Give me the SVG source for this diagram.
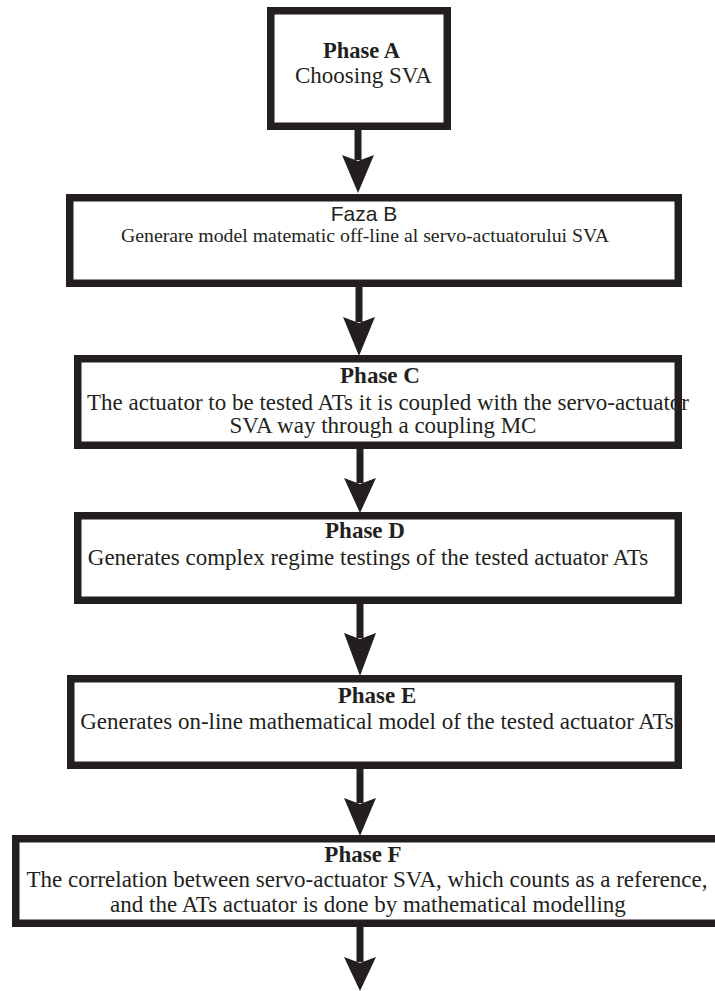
<svg xmlns="http://www.w3.org/2000/svg" width="715" height="991" viewBox="0 0 715 991">
<defs>
<style>
.box{fill:#fff;stroke:#231f20;stroke-width:7.5}
.t{font-family:"Liberation Serif","Times New Roman",serif;fill:#231f20;text-anchor:middle;font-size:23px}
.b{font-weight:bold}
.s{font-family:"Liberation Sans",Arial,sans-serif;fill:#231f20;text-anchor:middle}
.shaft{stroke:#231f20;stroke-width:7;fill:none}
.head{fill:#231f20}
</style>
</defs>
<rect width="715" height="991" fill="#fff"/>
<g id="connectors">
<line class="shaft" x1="358" y1="130" x2="358" y2="160"/>
<polygon class="head" points="342,155 358,161 374,155 358,193"/>
<line class="shaft" x1="359" y1="287" x2="359" y2="322"/>
<polygon class="head" points="343,317 359,323 375,317 359,356"/>
<line class="shaft" x1="360" y1="449" x2="360" y2="483"/>
<polygon class="head" points="344,478 360,484 376,478 360,513"/>
<line class="shaft" x1="360" y1="604" x2="360" y2="638"/>
<polygon class="head" points="344,633 360,639 376,633 360,676"/>
<line class="shaft" x1="360" y1="769" x2="360" y2="803"/>
<polygon class="head" points="344,798 360,804 376,798 360,836"/>
<line class="shaft" x1="360" y1="927" x2="360" y2="962"/>
<polygon class="head" points="344,957 360,963 376,957 360,991"/>
</g>
<g id="phaseA">
<rect class="box" x="270.75" y="10.75" width="176.5" height="115.5"/>
<text class="t b" x="361.5" y="58" style="font-size:22.5px">Phase A</text>
<text class="t" x="363.5" y="83">Choosing SVA</text>
</g>
<g id="phaseB">
<rect class="box" x="69.75" y="197.75" width="608.5" height="85.5"/>
<text class="s" x="364" y="221" font-size="21">Faza B</text>
<text class="t" x="365" y="242" style="font-size:19.8px">Generare model matematic off-line al servo-actuatorului SVA</text>
</g>
<g id="phaseC">
<rect class="box" x="77.75" y="358.75" width="600.5" height="86.5"/>
<text class="t b" x="380" y="383">Phase C</text>
<text class="t" x="388" y="410">The actuator to be tested ATs it is coupled with the servo-actuator</text>
<text class="t" x="383" y="433">SVA way through a coupling MC</text>
</g>
<g id="phaseD">
<rect class="box" x="77.75" y="515.75" width="600.5" height="84.5"/>
<text class="t b" x="365" y="538">Phase D</text>
<text class="t" x="368" y="565">Generates complex regime testings of the tested actuator ATs</text>
</g>
<g id="phaseE">
<rect class="box" x="70.75" y="678.75" width="607.5" height="86.5"/>
<text class="t b" x="377" y="703">Phase E</text>
<text class="t" x="377" y="729">Generates on-line mathematical model of the tested actuator ATs</text>
</g>
<g id="phaseF">
<rect class="box" x="15.75" y="838.75" width="715" height="84.5"/>
<text class="t b" x="363" y="862">Phase F</text>
<text class="t" x="367" y="887">The correlation between servo-actuator SVA, which counts as a reference,</text>
<text class="t" x="368" y="912">and the ATs actuator is done by mathematical modelling</text>
</g>
</svg>
